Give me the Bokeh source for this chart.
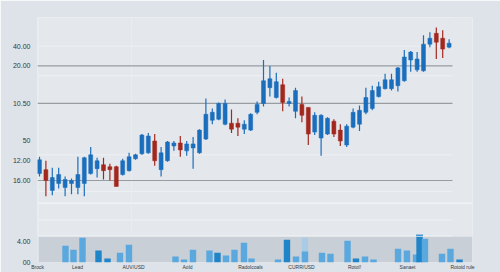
from bokeh.plotting import figure
from bokeh.models import Range1d, FixedTicker, BoxAnnotation, ColumnDataSource
from bokeh.embed import file_html
from bokeh.resources import INLINE

# ---- candle data (arbitrary price units) ----
opens  = [90, 94, 73, 80, 76, 80, 76, 80, 90, 95, 99, 97, 97, 89, 93, 105, 110, 111, 123, 94,
          103, 118, 121, 113, 116, 111, 125, 144, 145, 140, 141, 141, 135, 134, 152, 161, 177, 167, 180, 161,
          153, 160, 157, 132, 126, 130, 143, 134, 119, 137, 140, 152, 156, 168, 176, 176, 179, 184, 205, 195,
          194, 221, 232, 227, 218]
closes = [104, 83, 86, 89, 84, 83, 89, 106, 109, 103, 93, 94, 77, 103, 107, 109, 129, 128, 103, 111,
          122, 121, 114, 120, 120, 134, 150, 152, 161, 161, 135, 137, 140, 150, 160, 184, 186, 183, 162, 163,
          174, 149, 130, 149, 149, 146, 130, 123, 138, 152, 154, 167, 174, 178, 185, 185, 197, 208, 213, 206,
          221, 227, 223, 216, 222]
highs  = [107, 103, 96, 96, 87, 85, 107, 107, 117, 106, 106, 100, 98, 105, 111, 110, 130, 131, 130, 117,
          123, 123, 128, 123, 127, 135, 166, 156, 162, 165, 155, 146, 144, 151, 163, 205, 199, 192, 186, 167,
          177, 168, 157, 152, 150, 147, 145, 140, 140, 156, 159, 177, 179, 183, 191, 191, 198, 215, 214, 213,
          230, 233, 238, 235, 226]
lows   = [87, 67, 68, 75, 67, 69, 69, 67, 89, 86, 84, 83, 77, 88, 92, 104, 109, 110, 98, 87,
          102, 113, 107, 108, 95, 110, 124, 140, 144, 139, 131, 128, 130, 133, 150, 158, 168, 166, 153, 158,
          146, 142, 119, 129, 108, 129, 127, 118, 117, 136, 133, 150, 154, 167, 175, 174, 173, 183, 193, 193,
          193, 218, 206, 207, 217]
idx = list(range(1, len(opens) + 1))

# ---- volume data ----
vol_pos = [5.06, 6.31, 7.72, 10.22, 11.63, 13.58, 14.98, 22.25, 23.58, 24.98, 27.56, 28.81, 30.14,
           31.47, 32.95, 34.13, 38.27, 39.67, 41.08, 42.48, 45.14, 46.47, 49.13, 50.45, 51.86, 53.19,
           57.02, 58.42, 59.83, 60.38, 61.23, 63.89, 65.22, 66.63]
vol_val = [3.24, 2.48, 4.76, 2.29, 0.76, 1.90, 3.43, 1.14, 0.57, 2.48, 2.29, 1.90, 1.33,
           2.48, 3.81, 0.76, 0.57, 4.38, 1.14, 2.10, 1.90, 1.71, 4.19, 0.76, 1.14, 0.57,
           2.67, 2.29, 1.52, 4.95, 4.57, 1.71, 2.67, 0.57]
vol_dark = [0, 0, 0, 1, 1, 0, 0, 0, 0, 0, 0, 1, 0,
            0, 0, 0, 0, 1, 0, 0, 0, 0, 0, 1, 0, 0,
            0, 0, 0, 1, 0, 0, 0, 1]
ghost_pos = [42.48]
ghost_val = [4.76]
cap_pos = [60.38]
cap_val = [5.25]

# ---- tick labels ----
y_tick_vals = [219, 199, 161, 124, 103, 83, 21, 0]
y_tick_text = ["40.00", "20.00", "10.50", "50", "12.00", "16.00", "4.00", "00"]
x_tick_vals = [0.69, 6.94, 15.69, 24.13, 33.97, 41.94, 50.22, 58.5, 67.09]
x_tick_text = ["Brock", "Lead", "AUV/USD", "Aold", "Radolcoals", "CURR/USD", "Rotol!", "Sanaet", "Rotoid rule"]

BLUE = "#1a6ebd"
RED = "#a2281e"
LIGHT_BAR = "#5aa8dd"
DARK_BAR = "#1f84c8"

up = [c >= o for o, c in zip(opens, closes)]
src = ColumnDataSource(dict(
    x=idx, open=opens, close=closes, high=highs, low=lows,
    top=[max(o, c) for o, c in zip(opens, closes)],
    bottom=[min(o, c) for o, c in zip(opens, closes)],
    color=[BLUE if u else RED for u in up],
))
vsrc = ColumnDataSource(dict(x=vol_pos, v=vol_val,
                             color=[DARK_BAR if d else LIGHT_BAR for d in vol_dark]))

X0 = 0.6875
p = figure(width=500, height=272, output_backend="svg", toolbar_location=None,
           x_range=Range1d(X0, X0 + 435 / 6.4), y_range=Range1d(0, 248),
           min_border_left=37, min_border_right=28, min_border_top=17, min_border_bottom=7)
p.extra_y_ranges = {"vol": Range1d(0, 248 * 4 / 21)}

p.border_fill_color = "#dde3e8"
p.background_fill_color = "#e4e8ec"
p.outline_line_color = None
p.xgrid.visible = False
p.ygrid.visible = False

# volume band
p.add_layout(BoxAnnotation(bottom=0, top=26, fill_color="#c9cfd6", fill_alpha=1, line_color=None, level="underlay"))

XEND = X0 + 415 / 6.4
XFULL = X0 + 435 / 6.4
# light decorative grid lines
light_y = [248, 219, 189, 109, 72, 43, 27]
p.segment(x0=[X0] * len(light_y), x1=[XEND] * len(light_y), y0=light_y, y1=light_y,
          line_color="#eef1f4", line_width=1)
p.segment(x0=[X0], x1=[XFULL], y0=[60], y1=[60], line_color="#f1f4f6", line_width=1.5)
p.segment(x0=[X0 + 0.1, 15.375], x1=[X0 + 0.1, 15.375], y0=[0, 30], y1=[248, 248],
          line_color="#e9edf0", line_width=1)
# dark grid lines
dark_y = [199, 161, 83]
p.segment(x0=[X0] * 3, x1=[XEND] * 3, y0=dark_y, y1=dark_y, line_color="#979da3", line_width=1.2)

# volume
p.vbar(x=ghost_pos, top=ghost_val, width=1.0, fill_color="#a9cbe6", line_color=None, y_range_name="vol")
p.vbar(x="x", top="v", width=1.0, fill_color="color", line_color=None, source=vsrc, y_range_name="vol")
p.dash(x=cap_pos, y=cap_val, size=7, line_color="#4a9ad6", line_width=1.5, angle=0, y_range_name="vol")

# candles
p.segment(x0="x", x1="x", y0="low", y1="high", line_color="color", line_width=1.2, source=src)
p.vbar(x="x", top="top", bottom="bottom", width=0.62, fill_color="color", line_color="color",
       line_width=0.5, source=src)

# axes
ya = p.yaxis[0]
ya.ticker = FixedTicker(ticks=y_tick_vals)
ya.major_label_overrides = {v: t for v, t in zip(y_tick_vals, y_tick_text)}
ya.axis_line_color = None
ya.major_tick_line_color = None
ya.minor_tick_line_color = None
ya.major_tick_out = 0
ya.major_tick_in = 0
ya.major_label_standoff = 7
ya.major_label_text_font = "Liberation Sans"
ya.major_label_text_font_size = "7px"
ya.major_label_text_color = "#34393f"

xa = p.xaxis[0]
xa.ticker = FixedTicker(ticks=x_tick_vals)
xa.major_label_overrides = {v: t for v, t in zip(x_tick_vals, x_tick_text)}
xa.axis_line_color = None
xa.major_tick_line_color = None
xa.minor_tick_line_color = None
xa.major_tick_out = 0
xa.major_tick_in = 0
xa.major_label_standoff = 1
xa.major_label_text_font = "Liberation Sans"
xa.major_label_text_font_size = "5px"
xa.major_label_text_color = "#34393f"

open("out.html", "w").write(file_html(p, INLINE))
